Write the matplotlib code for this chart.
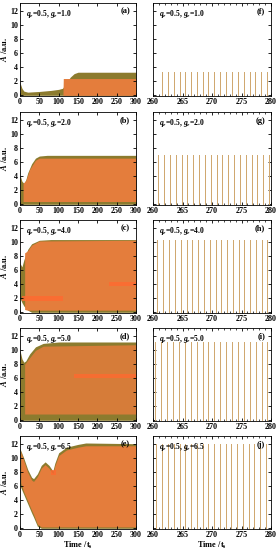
import matplotlib
matplotlib.use("Agg")
import matplotlib.pyplot as plt
import numpy as np

plt.rcParams['font.family'] = ['Liberation Serif', 'DejaVu Serif']
plt.rcParams['font.weight'] = 'bold'
plt.rcParams['mathtext.fontset'] = 'custom'
plt.rcParams['mathtext.rm'] = 'Liberation Serif:bold'
plt.rcParams['mathtext.it'] = 'Liberation Serif:bold:italic'
plt.rcParams['mathtext.bf'] = 'Liberation Serif:bold'

OLIVE = '#8c7b2e'
ORANGE = '#e47d3c'
BRIGHT = '#ff6a30'
PULSE = '#d0a870'

g_values = ['1.0', '2.0', '4.0', '5.0', '6.5']
left_tags = ['(a)', '(b)', '(c)', '(d)', '(e)']
right_tags = ['(f)', '(g)', '(h)', '(i)', '(j)']

# envelope of the oscillation (olive)
env_t = [
    [0, 5, 10, 20, 50, 80, 100, 110, 120, 130, 140, 150, 300],
    [0, 5, 10, 15, 20, 30, 40, 50, 70, 300],
    [0, 5, 10, 20, 30, 50, 80, 300],
    [0, 5, 10, 15, 25, 40, 60, 100, 300],
    [0, 10, 20, 30, 35, 45, 55, 65, 75, 85, 90, 100, 120, 150, 170, 300],
]
env_hi = [
    [1.8, 1.0, 0.6, 0.45, 0.55, 0.7, 0.85, 1.0, 1.8, 2.6, 3.1, 3.3, 3.3],
    [4.2, 3.3, 3.0, 3.5, 4.5, 5.8, 6.6, 6.9, 7.0, 7.0],
    [7.0, 6.5, 7.5, 9.0, 9.8, 10.3, 10.4, 10.4],
    [10.0, 8.8, 8.3, 8.5, 9.5, 10.5, 11.0, 11.2, 11.2],
    [11.4, 10.0, 8.4, 7.3, 7.1, 7.8, 9.0, 9.5, 9.0, 8.2, 9.3, 10.8, 11.6, 12.0, 12.2, 12.1],
]
env_lo = [
    [0, 0, 0, 0, 0, 0, 0, 0, 0, 0, 0, 0, 0],
    [0, 0, 0, 0, 0, 0, 0, 0, 0, 0],
    [2.0, 1.4, 0.9, 0.3, 0, 0, 0, 0],
    [0, 0, 0, 0, 0, 0, 0, 0, 0],
    [6.1, 4.8, 3.5, 2.2, 1.6, 0.3, 0, 0, 0, 0, 0, 0, 0, 0, 0, 0],
]

# orange inner band
org_t = [
    [111, 112, 300],
    [8, 15, 25, 40, 50, 300],
    [12, 20, 30, 50, 300],
    [12, 20, 40, 60, 300],
    [2, 10, 20, 30, 35, 45, 55, 65, 75, 85, 90, 100, 120, 150, 170, 300],
]
org_hi = [
    [0.0, 2.4, 2.4],
    [3.0, 3.4, 5.0, 6.3, 6.6, 6.6],
    [8.5, 8.8, 9.6, 10.2, 10.3],
    [8.0, 8.6, 10.0, 10.6, 10.8],
    [11.0, 9.6, 8.0, 6.9, 6.7, 7.4, 8.6, 9.1, 8.6, 7.8, 8.9, 10.4, 11.2, 11.6, 11.8, 11.8],
]
org_lo = [
    [0, 0, 0],
    [0.4, 0.4, 0.4, 0.4, 0.4, 0.4],
    [0.4, 0.3, 0.3, 0.3, 0.3],
    [0.9, 0.9, 0.9, 0.9, 0.9],
    [6.5, 5.2, 3.9, 2.6, 2.0, 0.6, 0.2, 0.2, 0.2, 0.2, 0.2, 0.2, 0.2, 0.2, 0.2, 0.2],
]
org_alpha = [1.0, 1.0, 1.0, 0.85, 1.0]

# brighter streaks: (panel, t0, t1, y0, y1)
streaks = [
    (2, 5, 110, 1.6, 2.4),
    (2, 230, 300, 3.7, 4.3),
    (3, 140, 300, 6.0, 6.6),
    (4, 80, 92, 7.6, 8.4),
]

# pulse peaks in the zoomed window 260-280
peak_times = [
    [261.5, 262.5, 263.5, 264.5, 265.5, 266.5, 267.4, 268.4, 269.4, 270.4,
     271.4, 272.4, 273.4, 274.4, 275.4, 276.4, 277.3, 278.3, 279.3],
    [260.9, 261.9, 262.9, 263.9, 264.9, 265.8, 266.8, 267.8, 268.8, 269.8,
     270.8, 271.7, 272.7, 273.7, 274.7, 275.7, 276.7, 277.6, 278.6, 279.6],
    [260.7, 261.7, 262.7, 263.7, 264.7, 265.7, 266.6, 267.6, 268.6, 269.6,
     270.6, 271.6, 272.5, 273.5, 274.5, 275.5, 276.5, 277.5, 278.4, 279.4],
    [260.4, 261.4, 262.4, 263.4, 264.4, 265.4, 266.4, 267.4, 268.4, 269.4,
     270.4, 271.4, 272.4, 273.4, 274.4, 275.4, 276.4, 277.4, 278.4, 279.4],
    [260.5, 261.5, 262.5, 263.5, 264.5, 265.4, 266.4, 267.4, 268.4, 269.4,
     270.4, 271.3, 272.3, 273.3, 274.3, 275.3, 276.3, 277.2, 278.2, 279.2],
]
peak_heights = [3.3, 7.0, 10.4, 11.2, 12.0]

W, H = 276, 550
fig = plt.figure(figsize=(W / 100, H / 100), dpi=100)

col_x = [(20, 136), (153, 271)]
row_top = [3, 112, 220, 328, 436]
row_h = 93

def style_axis(ax):
    ax.tick_params(direction='in', top=True, right=True, length=2.5, width=0.6,
                   labelsize=5.8, pad=1.5)
    ax.tick_params(which='minor', direction='in', top=True, right=True, length=1.5, width=0.5)
    for s in ax.spines.values():
        s.set_linewidth(0.6)
    for lab in ax.get_xticklabels() + ax.get_yticklabels():
        lab.set_fontweight('bold')

for i in range(5):
    y0 = (H - row_top[i] - row_h) / H
    # left panel
    x0, x1 = col_x[0]
    ax = fig.add_axes([x0 / W, y0, (x1 - x0) / W, row_h / H])
    ax.fill_between(env_t[i], env_lo[i], env_hi[i], color=OLIVE, lw=0)
    ax.fill_between(org_t[i], org_lo[i], org_hi[i], color=ORANGE, lw=0, alpha=org_alpha[i])
    for p, a, b, c, d in streaks:
        if p == i:
            ax.fill_between([a, b], [c, c], [d, d], color=BRIGHT, lw=0, alpha=0.8)
    ax.set_xlim(0, 300)
    ax.set_ylim(-0.1, 13.2)
    ax.set_xticks([0, 50, 100, 150, 200, 250, 300])
    ax.set_yticks([0, 2, 4, 6, 8, 10, 12])
    ax.set_ylabel(r'$\mathit{A}$ /a.u.', fontsize=6, labelpad=1, fontweight='bold')
    ax.text(0.05, 0.95, r'$\mathit{q_e}$=0.5, $\mathit{g_e}$=' + g_values[i],
            transform=ax.transAxes, fontsize=5.5, va='top', ha='left', fontweight='bold')
    ax.text(0.95, 0.95, left_tags[i], transform=ax.transAxes, fontsize=6,
            va='top', ha='right', fontweight='bold')
    style_axis(ax)
    if i == 4:
        ax.set_xlabel(r'Time /$\mathrm{t_s}$', fontsize=6, labelpad=0.5, fontweight='bold')

    # right panel
    x0, x1 = col_x[1]
    ax = fig.add_axes([x0 / W, y0, (x1 - x0) / W, row_h / H])
    ax.vlines(peak_times[i], 0, peak_heights[i], color=PULSE, lw=0.5, antialiased=False)
    ax.set_xlim(260, 280)
    ax.set_ylim(-0.1, 13.2)
    ax.set_xticks([260, 265, 270, 275, 280])
    ax.set_xticks(np.arange(260, 281, 1), minor=True)
    ax.set_yticks([0, 2, 4, 6, 8, 10, 12])
    ax.set_yticklabels([])
    ax.text(0.05, 0.95, r'$\mathit{q_e}$=0.5, $\mathit{g_e}$=' + g_values[i],
            transform=ax.transAxes, fontsize=5.5, va='top', ha='left', fontweight='bold')
    ax.text(0.95, 0.95, right_tags[i], transform=ax.transAxes, fontsize=6,
            va='top', ha='right', fontweight='bold')
    style_axis(ax)
    if i == 4:
        ax.set_xlabel(r'Time /$\mathrm{t_s}$', fontsize=6, labelpad=0.5, fontweight='bold')

fig.savefig('out.png', dpi=100)
